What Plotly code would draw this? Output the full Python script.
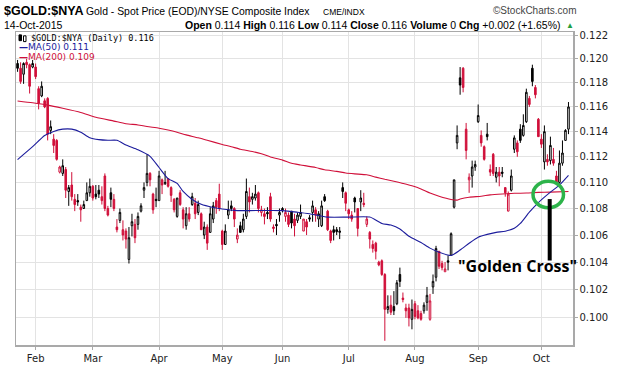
import math
import pandas as pd
import plotly.graph_objects as go

# ---------------- data ----------------
HOLIDAYS = ["2015-02-16", "2015-04-03", "2015-05-25", "2015-07-03", "2015-09-07"]
dates = [d for d in pd.bdate_range("2015-01-23", "2015-10-14")
         if d.strftime("%Y-%m-%d") not in HOLIDAYS]

month_labels = ["Feb", "Mar", "Apr", "May", "Jun", "Jul", "Aug", "Sep", "Oct"]
y_ticks = [0.100, 0.102, 0.104, 0.106, 0.108, 0.110, 0.112, 0.114, 0.116, 0.118, 0.120, 0.122]

opens = [
    .1196, .1192, .1187, .1197, .1195, .1193, .1193, .1175, .1169, .1165,
    .1167, .1141, .1134, .1133, .1108, .1107, .1110, .1093, .1098, .1087,
    .1086, .1081, .1080, .1086, .1092, .1097, .1091, .1094, .1089, .1105,
    .1080, .1092, .1087, .1066, .1071, .1064, .1063, .1042, .1067, .1068,
    .1068, .1078, .1094, .1100, .1107, .1091, .1087, .1086, .1102, .1099,
    .1103, .1096, .1087, .1074, .1092, .1079, .1067, .1076, .1083, .1084,
    .1077, .1076, .1060, .1066, .1062, .1072, .1086, .1091, .1063, .1053,
    .1075, .1082, .1080, .1057, .1067, .1064, .1074, .1089, .1087, .1088,
    .1092, .1077, .1076, .1077, .1089, .1066, .1068, .1075, .1080, .1074,
    .1075, .1078, .1072, .1071, .1074, .1063, .1070, .1073, .1077, .1079,
    .1072, .1067, .1089, .1078, .1063, .1064, .1064, .1062, .1096, .1092,
    .1079, .1075, .1088, .1080, .1085, .1084, .1068, .1062, .1053, .1054,
    .1040, .1041, .1031, .1006, .1009, .1008, .1010, .1031, .1014, .1007,
    .1007, .0999, .1010, .1005, .1003, .1005, .1011, .0999, .1022, .1029,
    .1048, .1039, .1033, .1041, .1045, .1081, .1131, .1184, .1192, .1142,
    .1102, .1105, .1112, .1148, .1137, .1128, .1138, .1110, .1122, .1104,
    .1108, .1108, .1096, .1078, .1094, .1126, .1131, .1142, .1137, .1148,
    .1167, .1192, .1176, .1150, .1134, .1116, .1118, .1117, .1118, .1105,
    .1100, .1115, .1133, .1142,
]
highs = [
    .1199, .1197, .1197, .1200, .1196, .1199, .1196, .1177, .1181, .1167,
    .1168, .1149, .1138, .1134, .1113, .1118, .1112, .1098, .1108, .1091,
    .1091, .1083, .1086, .1100, .1103, .1098, .1098, .1098, .1097, .1107,
    .1082, .1096, .1091, .1072, .1080, .1071, .1065, .1066, .1076, .1072,
    .1077, .1084, .1100, .1122, .1108, .1092, .1096, .1109, .1103, .1109,
    .1103, .1097, .1088, .1088, .1094, .1081, .1081, .1081, .1092, .1088,
    .1086, .1077, .1070, .1068, .1081, .1085, .1088, .1099, .1064, .1068,
    .1086, .1086, .1081, .1065, .1070, .1076, .1103, .1096, .1092, .1098,
    .1093, .1082, .1080, .1081, .1092, .1068, .1072, .1080, .1081, .1080,
    .1077, .1078, .1076, .1077, .1083, .1072, .1072, .1075, .1086, .1081,
    .1078, .1086, .1091, .1079, .1064, .1067, .1066, .1066, .1100, .1093,
    .1080, .1078, .1089, .1080, .1094, .1092, .1074, .1063, .1056, .1055,
    .1041, .1042, .1032, .1016, .1016, .1019, .1027, .1036, .1018, .1010,
    .1010, .1013, .1012, .1009, .1005, .1011, .1022, .1017, .1031, .1052,
    .1048, .1041, .1040, .1045, .1062, .1102, .1145, .1193, .1193, .1147,
    .1107, .1117, .1117, .1162, .1141, .1129, .1147, .1114, .1123, .1112,
    .1112, .1112, .1096, .1093, .1110, .1137, .1133, .1146, .1154, .1175,
    .1169, .1195, .1178, .1151, .1138, .1145, .1122, .1136, .1127, .1109,
    .1125, .1133, .1142, .1164,
]
lows = [
    .1189, .1179, .1179, .1192, .1171, .1192, .1183, .1158, .1168, .1159,
    .1133, .1138, .1123, .1117, .1107, .1105, .1088, .1082, .1086, .1078,
    .1082, .1070, .1080, .1086, .1089, .1086, .1087, .1088, .1083, .1078,
    .1074, .1081, .1078, .1062, .1069, .1056, .1050, .1039, .1059, .1054,
    .1064, .1077, .1088, .1097, .1097, .1076, .1081, .1086, .1091, .1098,
    .1096, .1085, .1077, .1073, .1082, .1065, .1064, .1070, .1082, .1072,
    .1075, .1064, .1057, .1049, .1062, .1069, .1076, .1078, .1049, .1053,
    .1072, .1078, .1066, .1054, .1062, .1062, .1072, .1077, .1083, .1086,
    .1077, .1074, .1068, .1072, .1070, .1062, .1060, .1070, .1077, .1070,
    .1066, .1065, .1059, .1069, .1072, .1063, .1060, .1070, .1070, .1070,
    .1066, .1066, .1085, .1063, .1054, .1056, .1060, .1057, .1088, .1078,
    .1072, .1070, .1077, .1059, .1078, .1081, .1066, .1050, .1047, .1042,
    .1037, .1030, .0984, .1003, .1002, .1002, .1009, .1022, .1011, .1000,
    .0994, .0992, .0999, .0999, .0998, .1003, .1005, .0998, .1017, .1026,
    .1035, .1034, .1033, .1034, .1045, .1080, .1126, .1170, .1172, .1118,
    .1092, .1096, .1109, .1147, .1128, .1117, .1133, .1105, .1105, .1100,
    .1097, .1104, .1089, .1078, .1093, .1123, .1120, .1131, .1136, .1147,
    .1160, .1177, .1167, .1136, .1127, .1110, .1113, .1114, .1113, .1098,
    .1099, .1113, .1133, .1138,
]
closes = [
    .1192, .1181, .1196, .1195, .1177, .1196, .1185, .1163, .1177, .1160,
    .1138, .1144, .1129, .1118, .1112, .1113, .1094, .1096, .1089, .1083,
    .1085, .1079, .1083, .1092, .1097, .1088, .1089, .1091, .1086, .1080,
    .1075, .1087, .1080, .1064, .1077, .1060, .1057, .1058, .1070, .1058,
    .1074, .1082, .1096, .1107, .1102, .1079, .1086, .1105, .1098, .1100,
    .1097, .1090, .1079, .1088, .1083, .1072, .1076, .1072, .1089, .1076,
    .1083, .1064, .1066, .1054, .1076, .1082, .1081, .1080, .1053, .1063,
    .1079, .1080, .1072, .1060, .1062, .1072, .1093, .1085, .1089, .1091,
    .1080, .1079, .1074, .1076, .1072, .1065, .1067, .1077, .1079, .1077,
    .1068, .1069, .1067, .1075, .1077, .1072, .1066, .1072, .1082, .1075,
    .1076, .1082, .1086, .1064, .1056, .1062, .10625, .1063, .1093, .1084,
    .1076, .1072, .1085, .1065, .1088, .1083, .1072, .1057, .1050, .1048,
    .1038, .1031, .1006, .1008, .1004, .1005, .1025, .1026, .1013, .1005,
    .1000, .1006, .1001, .1000, .0999, .1009, .1016, .1012, .1026, .1050,
    .1037, .1036, .1035, .1040, .1061, .1102, .1137, .1178, .1176, .1125,
    .1104, .1112, .1114, .1153, .1131, .1118, .1136, .1108, .1107, .1108,
    .1105, .1107, .1092, .1091, .1105, .1135, .1124, .1133, .1145, .1172,
    .1162, .1181, .1170, .1136, .1130, .1140, .1116, .1129, .1115, .1100,
    .1115, .1123, .1141, .1160,
]

# moving averages (trading-day position -> value)
ma50_pos = [0, 5, 9, 12, 15, 18, 21, 24, 27, 30, 33, 36, 40, 44, 47, 50, 53, 55, 58, 61,
            65, 68, 73, 77, 88, 93, 97, 103, 110, 117, 121, 124, 127, 130, 134, 137, 140, 144, 147, 150,
            153, 156, 159, 162, 165, 167, 170, 173, 177, 180, 183]
ma50_val = [.11178, .11280, .11369, .11402, .11420, .11420, .11395, .11351, .11336, .11331,
            .11331, .11293, .11255, .11204, .11116, .11029, .10992, .10930, .10869, .10832,
            .10808, .10796, .10784, .10784, .10784, .10772, .10760, .10735, .10735, .10735,
            .10687, .10675, .10646, .10591, .10544, .10503, .10473, .10449, .10489, .10539,
            .10584, .10605, .10620, .10629, .10651, .10687, .10772, .10845, .10925, .10979,
            .11054]
ma200_pos = [0, 5, 10, 15, 21, 26, 32, 36, 40, 43, 47, 50, 53, 56, 60, 63, 68, 71, 74, 78,
             81, 84, 88, 91, 94, 99, 102, 106, 109, 112, 116, 119, 122, 125, 128, 131, 134, 137, 140, 144,
             146, 147, 150, 154, 157, 161, 165, 169, 173, 177, 183]
ma200_val = [.11649, .11634, .11615, .11589, .11555, .11516, .11485, .11464, .11454, .11441,
             .11428, .11413, .11395, .11374, .11351, .11331, .11298, .11280, .11260, .11242,
             .11224, .11199, .11174, .11149, .11136, .11116, .11098, .11086, .11073, .11066,
             .11059, .11041, .11024, .11009, .10992, .10974, .10950, .10918, .10894, .10869,
             .10864, .10872, .10886, .10894, .10904, .10911, .10916, .10918, .10923, .10925,
             .10930]

n = len(dates)
assert len(opens) == len(highs) == len(lows) == len(closes) == n, (n, len(opens), len(highs), len(lows), len(closes))

pos = list(range(n))
month_pos = []
for m in range(2, 11):
    month_pos.append(next(i for i, d in enumerate(dates) if d.month == m))

up_idx = [i for i in pos if i == 0 or closes[i] >= closes[i - 1]]
dn_idx = [i for i in pos if not (i == 0 or closes[i] >= closes[i - 1])]

RED = "#d0103a"
BLACK = "#000000"
NAVY = "#1c1c9c"


def candles(idx, color):
    return go.Candlestick(
        x=idx,
        open=[opens[i] for i in idx], high=[highs[i] for i in idx],
        low=[lows[i] for i in idx], close=[closes[i] for i in idx],
        increasing=dict(line=dict(color=color, width=1), fillcolor="white"),
        decreasing=dict(line=dict(color=color, width=1), fillcolor=color),
        whiskerwidth=0, showlegend=False, hoverinfo="skip",
    )


fig = go.Figure()
fig.add_trace(candles(up_idx, BLACK))
fig.add_trace(candles(dn_idx, RED))
fig.add_trace(go.Scatter(x=ma200_pos, y=ma200_val, mode="lines", showlegend=False,
                         line=dict(color=RED, width=1.1, shape="spline", smoothing=0.6), hoverinfo="skip"))
fig.add_trace(go.Scatter(x=ma50_pos, y=ma50_val, mode="lines", showlegend=False,
                         line=dict(color=NAVY, width=1.1, shape="spline", smoothing=0.6), hoverinfo="skip"))

# ---------------- layout ----------------
W, H = 620, 376
L, R, T, B = 16, 47, 32, 18
PW, PH = W - L - R, H - T - B


def fx(px):
    return (px - L) / PW


def fy(py):
    return (H - B - py) / PH


AX_FONT = dict(family="DejaVu Sans, Verdana, sans-serif", size=10, color="#222222")
GRID = "#e3e3e3"
FRAME = "#a9a9a9"

fig.update_layout(
    width=W, height=H,
    margin=dict(l=L, r=R, t=T, b=B),
    paper_bgcolor="white", plot_bgcolor="white",
    boxgap=0.25,
    xaxis=dict(
        range=[-0.52, 184.5], tickmode="array", tickvals=month_pos, ticktext=month_labels,
        showgrid=True, gridcolor=GRID, gridwidth=1, zeroline=False,
        showline=True, linecolor=FRAME, linewidth=1.5, mirror=True,
        ticks="outside", ticklen=3, tickcolor=FRAME, tickfont=AX_FONT,
        rangeslider=dict(visible=False), fixedrange=True,
    ),
    yaxis=dict(
        type="log", range=[math.log10(0.09811), math.log10(0.12228)],
        tickmode="array", tickvals=y_ticks, ticktext=[f"{v:.3f}" for v in y_ticks],
        side="right", showgrid=True, gridcolor=GRID, gridwidth=1, zeroline=False,
        showline=True, linecolor=FRAME, linewidth=1.5, mirror=True,
        ticks="outside", ticklen=3, tickcolor=FRAME, tickfont=AX_FONT, fixedrange=True,
    ),
)

anns = []


def txt(text, px, py, size=11, color="black", family="Liberation Sans, Arial, sans-serif",
        xanchor="left"):
    anns.append(dict(text=text, x=fx(px), y=fy(py), xref="paper", yref="paper",
                     xanchor=xanchor, yanchor="middle", showarrow=False,
                     font=dict(size=size, color=color, family=family)))


# header
txt("<b>$GOLD:$NYA</b>", 2, 10, size=12.5)
txt("Gold - Spot Price (EOD)/NYSE Composite Index", 84, 11, size=10.4)
txt("CME/INDX", 321, 11, size=8.5)
txt("©StockCharts.com", 579, 10, size=10, color="#444444", xanchor="right")
txt("14-Oct-2015", 2, 25, size=10.5)
txt("<b>Open</b> 0.114 <b>High</b> 0.116 <b>Low</b> 0.114 <b>Close</b> 0.116 "
    "<b>Volume</b> 0 <b>Chg</b> +0.002 (+1.65%)", 563, 25, size=10.5, xanchor="right")
txt("▲", 564, 25, size=8, color="#22a040")

# in-plot legend
txt("$GOLD:$NYA (Daily) 0.116", 29, 38, size=8.5, family="DejaVu Sans Mono, monospace")
txt("<b>—</b>MA(50) 0.111", 17, 48, size=9, color=NAVY, family="DejaVu Sans, sans-serif")
txt("<b>—</b>MA(200) 0.109", 17, 58, size=9, color=RED, family="DejaVu Sans, sans-serif")

# annotation text
txt('<b>"Golden Cross"</b>', 517, 276, size=16, family="Open Sans, sans-serif", xanchor="center")

fig.update_layout(annotations=anns)

shapes = [
    # small candle icon in legend
    dict(type="rect", xref="paper", yref="paper", x0=fx(19), x1=fx(21.5), y0=fy(41), y1=fy(35),
         fillcolor="black", line=dict(color="black", width=1)),
    dict(type="rect", xref="paper", yref="paper", x0=fx(23.5), x1=fx(26), y0=fy(42), y1=fy(36),
         fillcolor="white", line=dict(color="black", width=1)),
    # green circle around the cross
    dict(type="circle", xref="paper", yref="paper", x0=fx(533), x1=fx(563.5), y0=fy(215), y1=fy(187.5),
         line=dict(color="#2db34a", width=3.5)),
    # pointer line
    dict(type="line", xref="paper", yref="paper", x0=fx(549.7), x1=fx(549.7), y0=fy(206), y1=fy(270),
         line=dict(color="black", width=4)),
]
fig.update_layout(shapes=shapes)

fig.write_html("out.html",
               config={"displayModeBar": False, "staticPlot": True},
               post_script="document.body.style.margin='0';document.body.style.overflow='hidden';")
